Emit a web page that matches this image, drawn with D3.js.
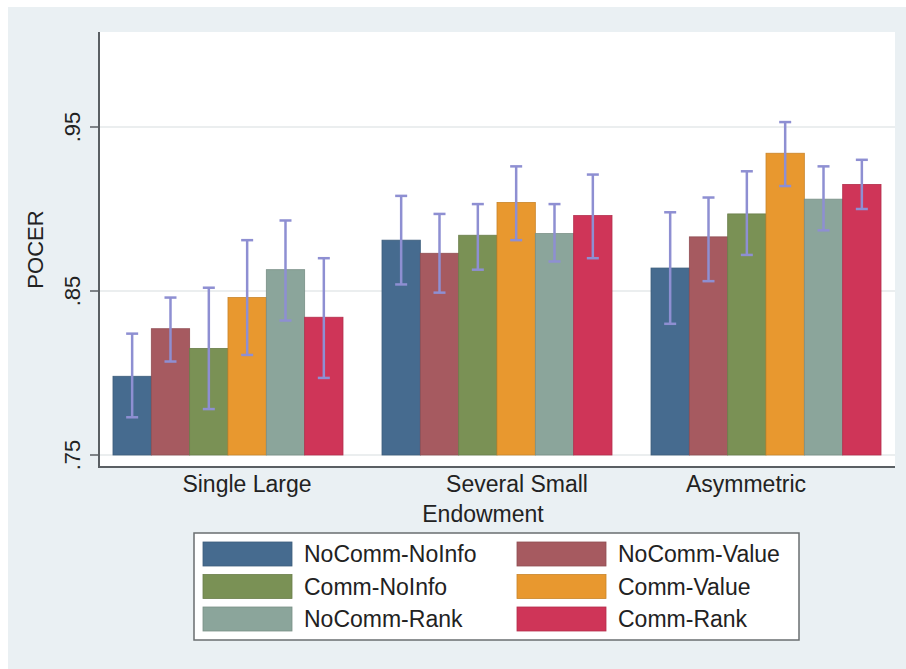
<!DOCTYPE html>
<html>
<head>
<meta charset="utf-8">
<script src="https://cdn.jsdelivr.net/npm/d3@7"></script>
<style>
  html, body { margin: 0; padding: 0; background: #ffffff; }
  svg { display: block; font-family: "Liberation Sans", Arial, sans-serif; }
</style>
</head>
<body>
<svg id="chart" width="906" height="669"></svg>
<script>
// ---------------- data ----------------
const categories = ["Single Large", "Several Small", "Asymmetric"];
const seriesNames = ["NoComm-NoInfo", "NoComm-Value", "Comm-NoInfo", "Comm-Value", "NoComm-Rank", "Comm-Rank"];
const seriesColors = ["#466b8f", "#a65a60", "#7a9155", "#e8982f", "#8ba59b", "#cf3558"];
// mean POCER per category (rows) and series (columns)
const meanSingleLarge   = [0.798, 0.827, 0.815, 0.846, 0.863, 0.834];
const meanSeveralSmall  = [0.881, 0.873, 0.884, 0.904, 0.885, 0.896];
const meanAsymmetric    = [0.864, 0.883, 0.897, 0.934, 0.906, 0.915];
// confidence interval lower / upper bounds
const lowSingleLarge    = [0.773, 0.807, 0.778, 0.811, 0.832, 0.797];
const highSingleLarge   = [0.824, 0.846, 0.852, 0.881, 0.893, 0.870];
const lowSeveralSmall   = [0.854, 0.849, 0.863, 0.881, 0.868, 0.870];
const highSeveralSmall  = [0.908, 0.897, 0.903, 0.926, 0.903, 0.921];
const lowAsymmetric     = [0.830, 0.856, 0.872, 0.914, 0.887, 0.900];
const highAsymmetric    = [0.898, 0.907, 0.923, 0.953, 0.926, 0.930];
const yTicks = [0.75, 0.85, 0.95];
const yTickLabels = [".75", ".85", ".95"];
const yTitle = "POCER";
const xTitle = "Endowment";

// ---------------- layout ----------------
const svg = d3.select("#chart");
const W = 906, H = 669;
const plot = { left: 99, right: 895, top: 32, bottom: 467 };

// outer background
svg.append("rect").attr("x", 8).attr("y", 7).attr("width", W - 8).attr("height", H - 7)
  .attr("fill", "#eaf0f3");
// plot region
svg.append("rect").attr("x", plot.left).attr("y", plot.top)
  .attr("width", plot.right - plot.left).attr("height", plot.bottom - plot.top)
  .attr("fill", "#ffffff");

const y = d3.scaleLinear().domain([0.75, 0.95]).range([455, 127]);
const x0 = d3.scaleBand().domain(categories).range([plot.left, plot.right])
  .paddingInner(0.145).paddingOuter(0.052);
const x1 = d3.scaleBand().domain(seriesNames).range([0, x0.bandwidth()]).padding(0);

// gridlines
svg.append("g").selectAll("line").data(yTicks).join("line")
  .attr("x1", plot.left).attr("x2", plot.right)
  .attr("y1", d => y(d)).attr("y2", d => y(d))
  .attr("stroke", "#e4e8ea").attr("stroke-width", 1.5);

// bars
const table = [
  { cat: categories[0], mean: meanSingleLarge, lo: lowSingleLarge, hi: highSingleLarge },
  { cat: categories[1], mean: meanSeveralSmall, lo: lowSeveralSmall, hi: highSeveralSmall },
  { cat: categories[2], mean: meanAsymmetric, lo: lowAsymmetric, hi: highAsymmetric }
];
const flat = [];
table.forEach(row => seriesNames.forEach((s, i) => flat.push({
  cat: row.cat, s, i, v: row.mean[i], lo: row.lo[i], hi: row.hi[i]
})));

const gBars = svg.append("g");
gBars.selectAll("rect").data(flat).join("rect")
  .attr("x", d => x0(d.cat) + x1(d.s))
  .attr("width", x1.bandwidth())
  .attr("y", d => y(d.v))
  .attr("height", d => y(0.75) - y(d.v))
  .attr("fill", d => seriesColors[d.i])
  .attr("stroke", d => d3.color(seriesColors[d.i]).darker(0.4))
  .attr("stroke-width", 0.8);

// error bars
const errColor = "#8e8fd2";
const capW = 12;
const gErr = svg.append("g").attr("stroke", errColor).attr("stroke-width", 2.5);
flat.forEach(d => {
  const cx = x0(d.cat) + x1(d.s) + x1.bandwidth() / 2;
  gErr.append("line").attr("x1", cx).attr("x2", cx).attr("y1", y(d.lo)).attr("y2", y(d.hi));
  gErr.append("line").attr("x1", cx - capW / 2).attr("x2", cx + capW / 2).attr("y1", y(d.lo)).attr("y2", y(d.lo));
  gErr.append("line").attr("x1", cx - capW / 2).attr("x2", cx + capW / 2).attr("y1", y(d.hi)).attr("y2", y(d.hi));
});

// axes lines
const axisColor = "#5a5f63";
svg.append("line").attr("x1", plot.left).attr("x2", plot.left)
  .attr("y1", plot.top).attr("y2", plot.bottom + 1)
  .attr("stroke", axisColor).attr("stroke-width", 2);
svg.append("line").attr("x1", plot.left).attr("x2", plot.right)
  .attr("y1", plot.bottom).attr("y2", plot.bottom)
  .attr("stroke", axisColor).attr("stroke-width", 2);

// y ticks + labels
const gy = svg.append("g");
yTicks.forEach((t, i) => {
  gy.append("line").attr("x1", plot.left - 9).attr("x2", plot.left)
    .attr("y1", y(t)).attr("y2", y(t)).attr("stroke", axisColor).attr("stroke-width", 1.5);
  gy.append("text")
    .attr("transform", `translate(80,${y(t)}) rotate(-90)`)
    .attr("text-anchor", "middle")
    .attr("font-size", 22).attr("fill", "#222")
    .text(yTickLabels[i]);
});
svg.append("text")
  .attr("transform", `translate(43,${(plot.top + plot.bottom) / 2}) rotate(-90)`)
  .attr("text-anchor", "middle").attr("font-size", 22).attr("fill", "#222")
  .text(yTitle);

// category labels (reference labels are slightly offset from group centers)
const labelNudge = [19, 20, -20];
svg.append("g").selectAll("text").data(categories).join("text")
  .attr("x", (d, i) => x0(d) + x0.bandwidth() / 2 + labelNudge[i])
  .attr("y", 492)
  .attr("text-anchor", "middle").attr("font-size", 23).attr("fill", "#222")
  .text(d => d);
svg.append("text").attr("x", 483).attr("y", 522)
  .attr("text-anchor", "middle").attr("font-size", 23).attr("fill", "#222")
  .text(xTitle);

// legend
const lg = svg.append("g");
lg.append("rect").attr("x", 194).attr("y", 533).attr("width", 605).attr("height", 107)
  .attr("fill", "#ffffff").attr("stroke", "#6a6e70").attr("stroke-width", 1.5);
const colX = [203, 517];
seriesNames.forEach((s, i) => {
  const col = i % 2, row = Math.floor(i / 2);
  const sx = colX[col], sy = 542 + row * 32.5;
  lg.append("rect").attr("x", sx).attr("y", sy).attr("width", 89).attr("height", 24)
    .attr("fill", seriesColors[i]).attr("stroke", d3.color(seriesColors[i]).darker(0.4)).attr("stroke-width", 0.8);
  lg.append("text").attr("x", sx + 101).attr("y", sy + 20)
    .attr("font-size", 23).attr("fill", "#222").text(s);
});
</script>
</body>
</html>
